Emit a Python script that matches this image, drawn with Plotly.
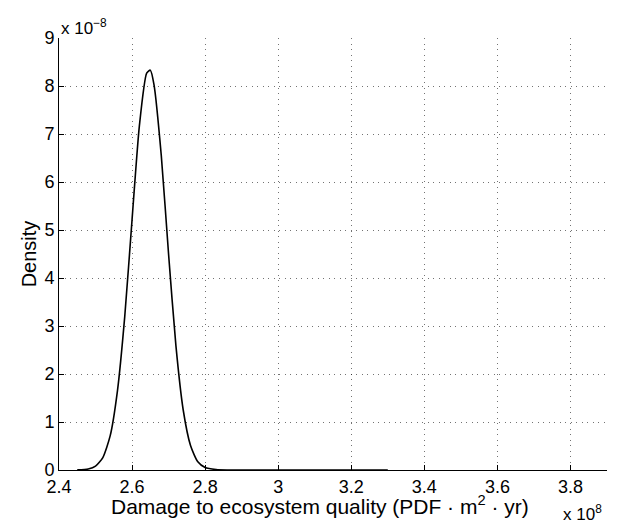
import plotly.graph_objects as go

# Damage to ecosystem quality (units of 1e8 PDF·m²·yr)
damage = [2.45, 2.48, 2.50, 2.52, 2.54, 2.56, 2.58, 2.60, 2.62, 2.64, 2.65,
          2.66, 2.68, 2.70, 2.72, 2.74, 2.76, 2.78, 2.80, 2.83, 2.86, 3.00, 3.30]
# Density (units of 1e-8)
density = [0.002, 0.02, 0.08, 0.26, 0.71, 1.65, 3.20, 5.22, 7.17, 8.27, 8.33,
           8.03, 6.55, 4.49, 2.59, 1.25, 0.51, 0.17, 0.05, 0.01, 0.0, 0.0, 0.0]

x_ticks = [2.4, 2.6, 2.8, 3.0, 3.2, 3.4, 3.6, 3.8]
x_tick_text = ["2.4", "2.6", "2.8", "3", "3.2", "3.4", "3.6", "3.8"]
y_ticks = [0, 1, 2, 3, 4, 5, 6, 7, 8, 9]

FONT = "Liberation Sans, Arial, Helvetica, sans-serif"

fig = go.Figure()
fig.add_trace(go.Scatter(x=damage, y=density, mode="lines",
                         line=dict(color="black", width=1.6, shape="spline", smoothing=0.6),
                         showlegend=False, hoverinfo="skip"))

axis_common = dict(showline=True, linecolor="black", linewidth=1, mirror=False,
                   ticks="inside", ticklen=5, tickcolor="black",
                   showgrid=True, gridcolor="rgba(0,0,0,0.55)", gridwidth=1,
                   griddash="1px,4.5px", zeroline=False,
                   tickfont=dict(family=FONT, size=18, color="black"))

fig.update_layout(
    width=628, height=529,
    margin=dict(l=59, r=21, t=38, b=59),
    paper_bgcolor="white", plot_bgcolor="white",
    font=dict(family=FONT, size=18, color="black"),
    xaxis=dict(range=[2.4, 3.9], tickvals=x_ticks, ticktext=x_tick_text,
               **axis_common),
    yaxis=dict(range=[0, 9], tickvals=y_ticks,
               title=dict(text="Density", standoff=2, font=dict(family=FONT, size=20)),
               **axis_common),
    annotations=[
        dict(text="Damage to ecosystem quality (PDF · m<sup>2</sup> · yr)",
             xref="paper", yref="paper", x=0.476, y=0.0,
             xanchor="center", yanchor="top", showarrow=False, yshift=-20,
             font=dict(family=FONT, size=21)),
        dict(text="x 10<sup>−8</sup>", xref="paper", yref="paper", x=0.0, y=1.0,
             xanchor="left", yanchor="bottom", showarrow=False, yshift=-2,
             font=dict(family=FONT, size=17)),
        dict(text="x 10<sup>8</sup>", xref="paper", yref="paper", x=1.0, y=0.0,
             xanchor="left", yanchor="top", showarrow=False, xshift=-46, yshift=-30,
             font=dict(family=FONT, size=17)),
    ],
)

fig.write_html("out.html")
